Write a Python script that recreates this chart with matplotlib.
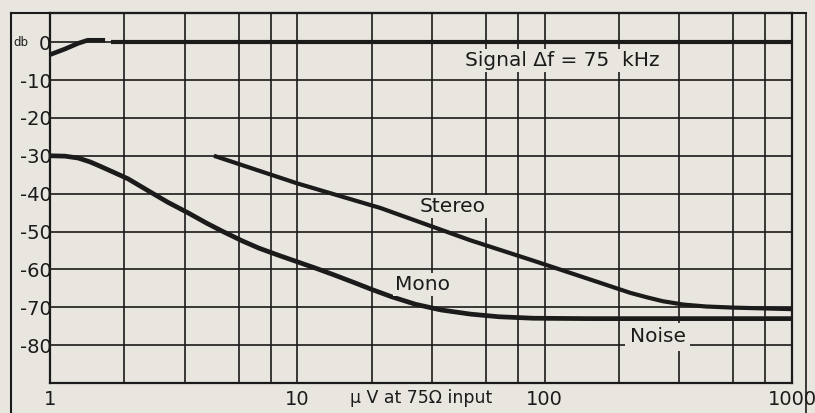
"""Tuner response chart: signal and noise versus aerial input level."""

import numpy as np
import matplotlib
matplotlib.use("Agg", force=True)
import matplotlib.pyplot as plt
from matplotlib.lines import Line2D
from matplotlib.transforms import blended_transform_factory


PAPER = "#e8e6df"
INK = "#1b1b1b"

# axis values
db_ticks = [0, -10, -20, -30, -40, -50, -60, -70, -80]
db_tick_labels = ["0", "-10", "-20", "-30", "-40", "-50", "-60", "-70", "-80"]
uv_ticks = [1, 10, 100, 1000]
uv_tick_labels = ["1", "10", "100", "1000"]
grid_steps = [2.0, 3.5, 5.8, 7.8]

# signal, drawn in two pieces (short break just after the knee)
signal_uv_a = [1.0, 1.15, 1.3, 1.42, 1.67]
signal_db_a = [-3.3, -1.8, -0.3, 0.5, 0.5]
signal_uv_b = [1.76, 10.0, 100.0, 1000.0]
signal_db_b = [0.0, 0.0, 0.0, 0.0]

# mono noise
mono_uv = [1.0, 1.15, 1.3, 1.45, 1.6, 1.8, 2.07, 2.55, 3.0, 3.6, 4.3, 5.0,
           6.0, 7.0, 8.5, 10.0, 12.0, 14.0, 17.0, 20.0, 24.0, 30.0, 38.0,
           50.0, 65.0, 90.0, 150.0, 1000.0]
mono_db = [-30.0, -30.1, -30.6, -31.6, -32.8, -34.3, -36.1, -39.6, -42.3,
           -45.0, -47.8, -50.0, -52.5, -54.4, -56.4, -58.0, -59.8, -61.4,
           -63.5, -65.3, -67.2, -69.2, -70.7, -71.8, -72.5, -72.9, -73.0,
           -73.0]

# stereo noise
stereo_uv = [4.6, 10.0, 21.7, 50.0, 90.0, 150.0, 222.0, 260.0, 300.0, 365.0,
             450.0, 582.0, 1000.0]
stereo_db = [-30.0, -37.3, -43.8, -52.3, -57.7, -62.5, -66.2, -67.4, -68.4,
             -69.3, -69.8, -70.1, -70.5]


plt.rcParams["font.family"] = ["DejaVu Sans"]

W, H = 815, 413
fig = plt.figure(figsize=(W / 100, H / 100), dpi=100, facecolor=PAPER)
ax = fig.add_axes([50 / W, 30 / H, 742 / W, 370 / H], facecolor=PAPER)

ax.set_xscale("log")
ax.set_xlim(1, 1000)
ax.set_ylim(-90, 7.7)

ax.set_xticks(uv_ticks)
ax.set_xticklabels(uv_tick_labels)
minor = [s * 10 ** d for d in range(3) for s in grid_steps]
ax.set_xticks(minor, minor=True)
ax.xaxis.set_minor_formatter(matplotlib.ticker.NullFormatter())
ax.set_yticks(db_ticks)
ax.set_yticklabels(db_tick_labels)

ax.tick_params(axis="both", which="both", length=0, colors=INK,
               labelsize=14)
ax.tick_params(axis="x", pad=5)
ax.tick_params(axis="y", pad=-1)
ax.grid(True, which="both", color=INK, linewidth=1.2)
ax.set_axisbelow(True)
for side in ax.spines.values():
    side.set_color(INK)
    side.set_linewidth(1.6)

# curves
ax.plot(signal_uv_a, signal_db_a, color=INK, lw=3.3, solid_capstyle="butt")
ax.plot(signal_uv_b, signal_db_b, color=INK, lw=3.0, solid_capstyle="butt")
ax.plot(mono_uv, mono_db, color=INK, lw=3.4, solid_capstyle="butt",
        solid_joinstyle="round")
ax.plot(stereo_uv, stereo_db, color=INK, lw=3.0, solid_capstyle="butt",
        solid_joinstyle="round")

box = dict(facecolor=PAPER, edgecolor="none", pad=1.5)
ax.text(118, -4.8, "Signal \u0394f = 75  kHz", fontsize=14.5, color=INK,
        ha="center", va="center", bbox=box)
ax.text(42.4, -43.3, "Stereo", fontsize=14.5, color=INK,
        ha="center", va="center", bbox=box)
ax.text(32.1, -63.9, "Mono", fontsize=14.5, color=INK,
        ha="center", va="center", bbox=box)
ax.text(286, -77.8, "Noise", fontsize=14.5, color=INK,
        ha="center", va="center", bbox=dict(facecolor=PAPER, edgecolor="none",
                                            pad=3))

bt = blended_transform_factory(ax.transData, ax.transAxes)
ax.text(31.7, -0.04, "\u00b5 V at 75\u03a9 input", transform=bt,
        fontsize=12.5, color=INK, ha="center", va="center")
ax.text(-0.039, 0.0, "db", transform=blended_transform_factory(
    ax.transAxes, ax.transData), fontsize=8.5, color=INK,
    ha="center", va="center")

# outer frame around the chart and tick labels
fx = lambda px: px / W
fy = lambda py: 1 - py / H
fig.add_artist(Line2D([fx(11), fx(11)], [fy(13), 0], color=INK, lw=1.5,
                      transform=fig.transFigure))
fig.add_artist(Line2D([fx(11), fx(806)], [fy(13), fy(13)], color=INK, lw=1.5,
                      transform=fig.transFigure))
fig.add_artist(Line2D([fx(806), fx(806)], [fy(13), 0], color=INK, lw=1.2,
                      transform=fig.transFigure))

fig.savefig("out.png", dpi=100, facecolor=PAPER)
plt.close(fig)
